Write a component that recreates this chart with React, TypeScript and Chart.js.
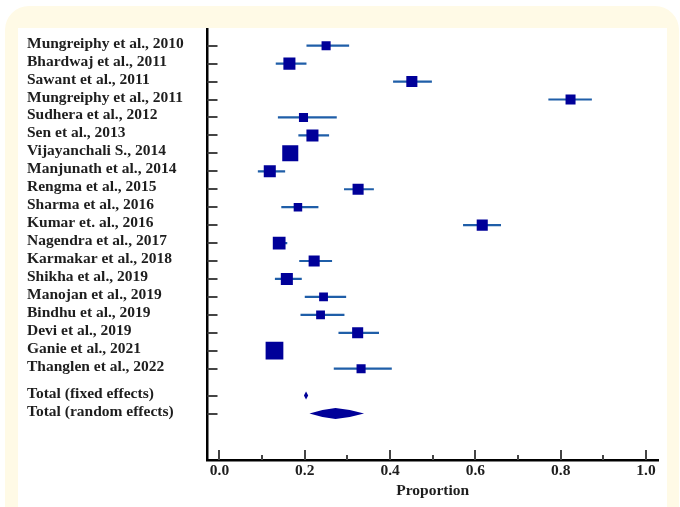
import React, { useEffect, useRef } from "react";
import { Chart, registerables } from "chart.js";

Chart.register(...registerables);

const studies = [
  "Mungreiphy et al., 2010",
  "Bhardwaj et al., 2011",
  "Sawant et al., 2011",
  "Mungreiphy et al., 2011",
  "Sudhera et al., 2012",
  "Sen et al., 2013",
  "Vijayanchali S., 2014",
  "Manjunath et al., 2014",
  "Rengma et al., 2015",
  "Sharma et al., 2016",
  "Kumar et. al., 2016",
  "Nagendra et al., 2017",
  "Karmakar et al., 2018",
  "Shikha et al., 2019",
  "Manojan et al., 2019",
  "Bindhu et al., 2019",
  "Devi et al., 2019",
  "Ganie et al., 2021",
  "Thanglen et al., 2022",
];
const estimates = [0.25, 0.164, 0.451, 0.823, 0.197, 0.218, 0.166, 0.118, 0.325, 0.184, 0.616, 0.14, 0.222, 0.158, 0.244, 0.237, 0.324, 0.129, 0.332];
const lowerCI = [0.204, 0.132, 0.407, 0.771, 0.137, 0.185, 0.15, 0.09, 0.292, 0.145, 0.571, 0.128, 0.187, 0.13, 0.2, 0.19, 0.279, 0.115, 0.268];
const upperCI = [0.304, 0.204, 0.498, 0.873, 0.275, 0.257, 0.184, 0.154, 0.362, 0.232, 0.66, 0.159, 0.264, 0.193, 0.297, 0.293, 0.374, 0.145, 0.404];
const weights = [3.3, 5.8, 4.9, 4.0, 3.3, 5.8, 10.3, 5.8, 4.9, 2.9, 4.9, 6.5, 4.9, 5.8, 3.1, 3.1, 4.9, 12.6, 3.3];

const totalLabels = ["Total (fixed effects)", "Total (random effects)"];
const totalEstimates = [0.203, 0.272];
const totalLower = [0.198, 0.211];
const totalUpper = [0.208, 0.339];

const xTickValues = [0, 0.2, 0.4, 0.6, 0.8, 1.0];
const xMinorTickValues = [0.1, 0.3, 0.5, 0.7, 0.9];

const SQUARE_COLOR = "#000099";
const CI_COLOR = "#1f5ea8";
const FONT = "'Liberation Serif', 'DejaVu Serif', serif";

export default function App() {
  const ref = useRef<HTMLCanvasElement | null>(null);

  useEffect(() => {
    const canvas = ref.current;
    if (!canvas) return;

    const studyRows = studies.map((_, i) => i);
    const totalRows = totalLabels.map((_, j) => studies.length + 0.5 + j);
    const allRows = [...studyRows, ...totalRows];
    const labelFor = new Map<number, string>();
    studyRows.forEach((r, i) => labelFor.set(r, studies[i]));
    totalRows.forEach((r, j) => labelFor.set(r, totalLabels[j]));

    const ciDatasets = studies.map((_, i) => ({
      type: "line" as const,
      data: [
        { x: lowerCI[i], y: studyRows[i] },
        { x: upperCI[i], y: studyRows[i] },
      ],
      borderColor: CI_COLOR,
      borderWidth: 2.2,
      pointRadius: 0,
      showLine: true,
      fill: false,
      order: 2,
    }));

    const squares = {
      type: "scatter" as const,
      data: studies.map((_, i) => ({ x: estimates[i], y: studyRows[i] })),
      pointStyle: "rect",
      pointRadius: weights.map((w) => (5 * Math.sqrt(w)) / Math.SQRT2),
      backgroundColor: SQUARE_COLOR,
      borderColor: SQUARE_COLOR,
      borderWidth: 0,
      order: 1,
    };

    const forestPlugin = {
      id: "forest",
      afterDatasetsDraw(chart: any) {
        const ctx = chart.ctx;
        const xs = chart.scales.x;
        const ys = chart.scales.y;
        const halfH = [4, 5.5];
        ctx.save();
        ctx.fillStyle = SQUARE_COLOR;
        totalRows.forEach((r, j) => {
          const y = ys.getPixelForValue(r);
          const xl = xs.getPixelForValue(totalLower[j]);
          const xe = xs.getPixelForValue(totalEstimates[j]);
          const xh = xs.getPixelForValue(totalUpper[j]);
          const qL = (xl + xe) / 2;
          const qH = (xe + xh) / 2;
          ctx.beginPath();
          ctx.moveTo(xl, y);
          if (j === 1) {
            ctx.lineTo(qL, y - halfH[j] * 0.62);
            ctx.lineTo(xe, y - halfH[j]);
            ctx.lineTo(qH, y - halfH[j] * 0.62);
            ctx.lineTo(xh, y);
            ctx.lineTo(qH, y + halfH[j] * 0.62);
            ctx.lineTo(xe, y + halfH[j]);
            ctx.lineTo(qL, y + halfH[j] * 0.62);
          } else {
            ctx.lineTo(xe, y - halfH[j]);
            ctx.lineTo(xh, y);
            ctx.lineTo(xe, y + halfH[j]);
          }
          ctx.closePath();
          ctx.fill();
        });
        ctx.restore();
      },
      afterDraw(chart: any) {
        const ctx = chart.ctx;
        const xs = chart.scales.x;
        const ys = chart.scales.y;
        const area = chart.chartArea;
        ctx.save();
        ctx.strokeStyle = "#444444";
        ctx.lineWidth = 2;
        ctx.beginPath();
        allRows.forEach((r) => {
          const y = Math.round(ys.getPixelForValue(r));
          ctx.moveTo(area.left, y);
          ctx.lineTo(area.left + 10, y);
        });
        xTickValues.forEach((v) => {
          const x = Math.round(xs.getPixelForValue(v));
          ctx.moveTo(x, area.bottom);
          ctx.lineTo(x, area.bottom - 10);
        });
        xMinorTickValues.forEach((v) => {
          const x = Math.round(xs.getPixelForValue(v));
          ctx.moveTo(x, area.bottom);
          ctx.lineTo(x, area.bottom - 5);
        });
        ctx.stroke();
        ctx.restore();
      },
    };

    const chart = new Chart(canvas, {
      type: "scatter",
      data: { datasets: [...ciDatasets, squares] as any },
      options: {
        animation: false,
        responsive: false,
        events: [],
        layout: { padding: { left: 27, top: 29, right: 22, bottom: 0 } },
        plugins: { legend: { display: false }, tooltip: { enabled: false } },
        scales: {
          x: {
            type: "linear",
            min: -0.028,
            max: 1.028,
            afterBuildTicks: (scale: any) => {
              scale.ticks = xTickValues.map((v) => ({ value: v }));
            },
            afterFit: (scale: any) => {
              scale.height = 47;
            },
            grid: { display: true, drawOnChartArea: false, drawTicks: false },
            border: { display: true, color: "#000", width: 2.5 },
            ticks: {
              padding: 2,
              color: "#1e1e1e",
              font: { family: FONT, size: 15.5, weight: "bold" },
              callback: (v: any) => Number(v).toFixed(1),
            },
            title: {
              display: true,
              text: "Proportion",
              color: "#1e1e1e",
              font: { family: FONT, size: 15.5, weight: "bold" },
              padding: { top: 0, bottom: 7 },
            },
          },
          y: {
            type: "linear",
            reverse: true,
            min: -0.93,
            max: 23.09,
            afterBuildTicks: (scale: any) => {
              scale.ticks = allRows.map((v) => ({ value: v }));
            },
            afterFit: (scale: any) => {
              scale.width = 180.5;
            },
            grid: { display: true, drawOnChartArea: false, drawTicks: false },
            border: { display: true, color: "#000", width: 2.5 },
            ticks: {
              crossAlign: "far",
              padding: 0,
              labelOffset: -2,
              autoSkip: false,
              color: "#1e1e1e",
              font: { family: FONT, size: 15.5, weight: "bold" },
              callback: (v: any) => labelFor.get(Number(v)) ?? "",
            },
          },
        },
      },
      plugins: [forestPlugin],
    });

    return () => chart.destroy();
  }, []);

  return (
    <div
      style={{
        position: "absolute",
        left: 0,
        top: 0,
        width: 680,
        height: 507,
        background: "#ffffff",
        overflow: "hidden",
      }}
    >
      <div
        style={{
          position: "absolute",
          left: 5,
          top: 6,
          width: 674,
          height: 540,
          background: "#FFFAE6",
          borderRadius: 24,
        }}
      />
      <div
        style={{
          position: "absolute",
          left: 18,
          top: 28,
          width: 649,
          height: 479,
          background: "#ffffff",
        }}
      />
      <canvas
        ref={ref}
        width={680}
        height={507}
        style={{ position: "absolute", left: 0, top: 0, width: 680, height: 507 }}
      />
    </div>
  );
}
